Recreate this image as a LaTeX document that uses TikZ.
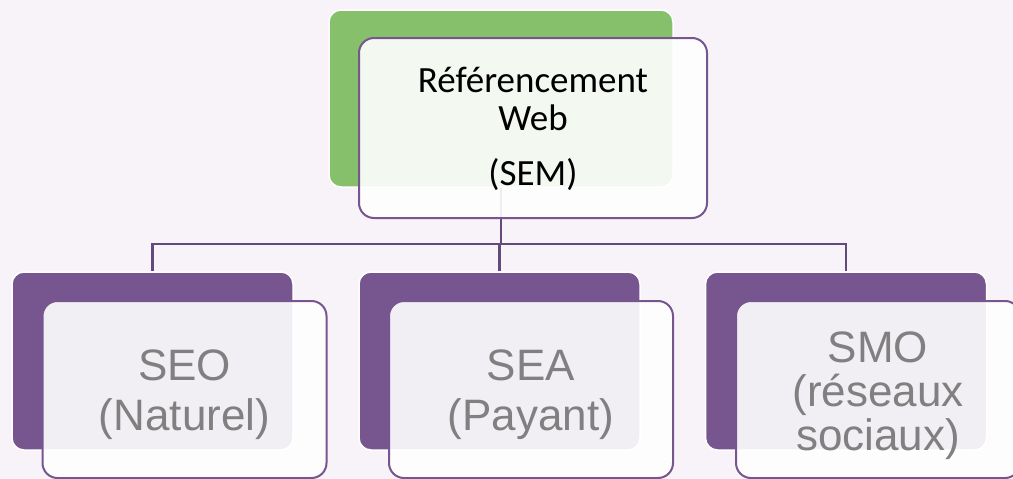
\documentclass[tikz,border=0pt]{standalone}
\usepackage{fontspec}
\newfontfamily\carlito{Carlito}
\newfontfamily\arialish{Liberation Sans}
\definecolor{pagebg}{HTML}{F8F3F8}
\definecolor{leafgreen}{HTML}{86C06A}
\definecolor{plum}{HTML}{77568F}
\definecolor{plumline}{HTML}{644A7C}
\definecolor{labelgray}{HTML}{808080}
\tikzset{
  backbox/.style={rectangle,rounded corners=12pt,draw=white,line width=1.5pt,inner sep=0pt},
  frontbox/.style={rectangle,rounded corners=15pt,draw=plum,line width=2pt,
    fill=white,fill opacity=0.9,inner sep=0pt,minimum width=284pt,minimum height=177pt},
  link/.style={draw=plumline,line width=2.2pt},
  toptext/.style={font=\carlito\fontsize{37}{38}\selectfont,align=center,text=black,inner sep=0pt},
  leaftext/.style={font=\arialish\fontsize{44}{50}\selectfont,align=center,text=labelgray,inner sep=0pt},
}
\begin{document}
\begin{tikzpicture}[x=1pt,y=-1pt]
  \fill[pagebg] (0,0) rectangle (1013,479);
  \useasboundingbox (0,0) rectangle (1013,479);

  % top: Referencement Web
  \node[backbox,fill=leafgreen,minimum width=344pt,minimum height=177pt] (semback) at (501,98.5) {};
  \coordinate (bus) at (501,244);
  \draw[link] (semback.south) -- (bus);
  \node[frontbox,minimum width=348pt,minimum height=180pt] (sem) at (533,128) {};
  \node[toptext,anchor=base] (semtext) at (533,185)
    {Référencement\\Web\\[17pt](SEM)};

  % bottom row backs
  \node[backbox,fill=plum,minimum width=281pt,minimum height=178pt] (seoback) at (152.5,361) {};
  \node[backbox,fill=plum,minimum width=281pt,minimum height=178pt] (seaback) at (499.5,361) {};
  \node[backbox,fill=plum,minimum width=281pt,minimum height=178pt] (smoback) at (846,361) {};
  \draw[link] (bus) -| (seoback.north);
  \draw[link] (bus) -| (seaback.north);
  \draw[link] (bus) -| (smoback.north);

  % bottom row fronts
  \node[frontbox] (seo) at (184.5,389.5) {};
  \node[frontbox] (sea) at (531,389.5) {};
  \node[frontbox] (smo) at (878,389.5) {};
  \node[leaftext,anchor=base] (seotext) at (184.5,430) {SEO\\(Naturel)};
  \node[leaftext,anchor=base] (seatext) at (531,430) {SEA\\(Payant)};
  \node[leaftext,anchor=base,font=\arialish\fontsize{44}{44}\selectfont] (smotext) at (878,450)
    {SMO\\(réseaux\\sociaux)};
\end{tikzpicture}
\end{document}
